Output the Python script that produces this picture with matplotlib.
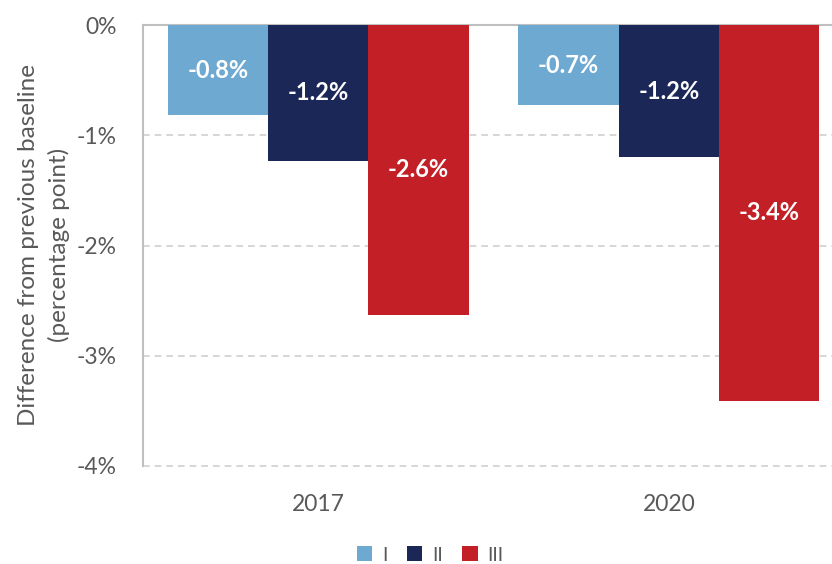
import matplotlib.pyplot as plt
import numpy as np

# veriler
years = ['2017', '2020']
series = ['I', 'II', 'III']
vals_I = [-0.82, -0.73]
vals_II = [-1.23, -1.20]
vals_III = [-2.63, -3.41]
labels_I = ['-0.8%', '-0.7%']
labels_II = ['-1.2%', '-1.2%']
labels_III = ['-2.6%', '-3.4%']
colors = ['#6EA9D1', '#1B2757', '#C22026']

plt.rcParams['font.family'] = ['Lato', 'DejaVu Sans']
gray = '#595959'

fig = plt.figure(figsize=(8.32, 5.64), dpi=100)
ax = fig.add_axes([143/832, 1-466/564, (844-143)/832, 441/564])

x = np.arange(len(years))
w = 0.286
data = [vals_I, vals_II, vals_III]
labs = [labels_I, labels_II, labels_III]
for i, (v, lb, c, name) in enumerate(zip(data, labs, colors, series)):
    bars = ax.bar(x + (i-1)*w, v, w, color=c, label=name, zorder=3)
    for b, t in zip(bars, lb):
        ax.text(b.get_x()+b.get_width()/2, b.get_height()/2, t,
                ha='center', va='center', color='white', fontsize=17, fontweight='bold', zorder=4)

ax.set_xlim(-0.5, 1.5)
ax.set_ylim(-4, 0)
ax.set_yticks([0, -1, -2, -3, -4])
ax.set_yticklabels(['0%', '-1%', '-2%', '-3%', '-4%'])
ax.set_xticks(x)
ax.set_xticklabels(years)
ax.tick_params(length=0, colors=gray, labelsize=16.5)
ax.tick_params(axis='y', pad=19)
ax.tick_params(axis='x', pad=20)
ax.yaxis.grid(True, ls=(0, (4, 3)), color='#D0D0D0', lw=1.2, zorder=0)
for gl in ax.get_ygridlines():
    gl.set_clip_on(False)
for s in ['right', 'bottom']:
    ax.spines[s].set_visible(False)
ax.spines['left'].set_color('#BFBFBF')
ax.spines['top'].set_color('#BFBFBF')
ax.spines['left'].set_linewidth(1.5)
ax.spines['top'].set_linewidth(1.5)

# y ekseni basligi
fig.text(44/832, 1-245/564, 'Difference from previous baseline\n(percentage point)', rotation=90,
         ha='center', va='center', color=gray, fontsize=17.5, linespacing=1.5, multialignment='center')

fig.legend(loc='center', bbox_to_anchor=(430/832, 1-555/564), ncol=3, frameon=False,
           fontsize=14, labelcolor=gray, handlelength=0.8, handleheight=0.8, columnspacing=1.0, handletextpad=0.5)

fig.savefig('out.png', dpi=100)
